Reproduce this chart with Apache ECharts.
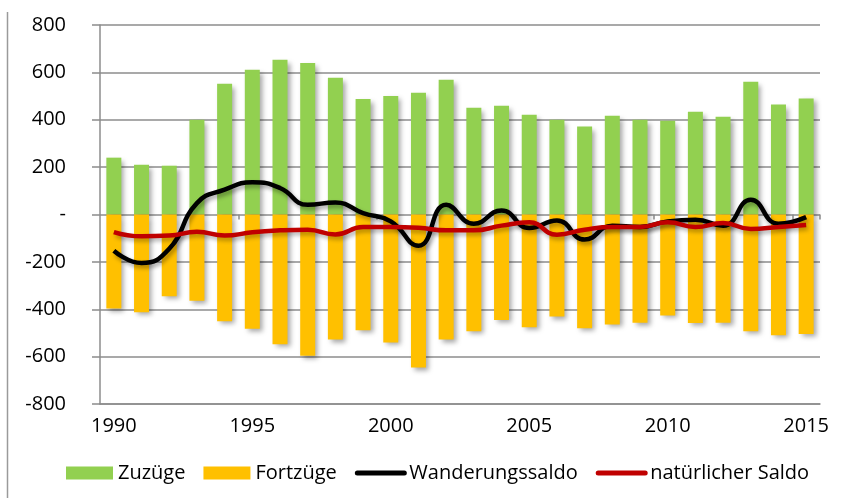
<!DOCTYPE html>
<html>
<head>
<meta charset="utf-8">
<script src="https://cdn.jsdelivr.net/npm/echarts@6/dist/echarts.min.js"></script>
<style>
  html, body { margin: 0; padding: 0; background: #fff; }
  #chart { width: 845px; height: 498px; }
</style>
</head>
<body>
<div id="chart"></div>
<script>
// Jahre
var years = ['1990', '1991', '1992', '1993', '1994', '1995', '1996', '1997', '1998', '1999',
    '2000', '2001', '2002', '2003', '2004', '2005', '2006', '2007', '2008', '2009',
    '2010', '2011', '2012', '2013', '2014', '2015'];

var zuzuege = [240, 210, 206, 400, 552, 611, 653, 640, 577, 488,
    500, 514, 569, 451, 459, 421, 400, 371, 417, 400,
    396, 434, 413, 560, 464, 490];

var fortzuege = [-397, -413, -345, -364, -451, -482, -548, -596, -528, -489,
    -540, -646, -528, -493, -445, -476, -431, -480, -464, -457,
    -426, -458, -457, -493, -510, -504];

var wanderungssaldo = [-153, -205, -145, 48, 105, 136, 112, 41, 51, 6,
    -29, -132, 41, -39, 17, -57, -25, -106, -47, -53,
    -29, -22, -47, 62, -39, -11];

var natSaldo = [-74, -92, -89, -73, -89, -75, -67, -64, -84, -53,
    -53, -56, -67, -67, -47, -33, -85, -64, -53, -53,
    -33, -53, -36, -61, -53, -44];

var yTicks = [-800, -600, -400, -200, 0, 200, 400, 600, 800];

var fontFam = 'Open Sans';
var gridGray = '#8c8c8c';

var chart = echarts.init(document.getElementById('chart'));

var option = {
    animation: false,
    textStyle: { fontFamily: fontFam },
    grid: { left: 100, right: 25, top: 25, bottom: 94 },
    legend: {
        left: 61,
        top: 458,
        itemGap: 18,
        itemWidth: 47,
        itemHeight: 13,
        textStyle: { fontFamily: fontFam, fontSize: 20, color: '#000' },
        lineStyle: { width: 5, cap: 'round' },
        data: [
            { name: 'Zuzüge', icon: 'rect' },
            { name: 'Fortzüge', icon: 'rect' },
            { name: 'Wanderungssaldo', itemStyle: { opacity: 0 } },
            { name: 'natürlicher Saldo', itemStyle: { opacity: 0 } }
        ]
    },
    xAxis: [{
        type: 'category',
        data: years,
        axisLine: { onZero: false, lineStyle: { color: gridGray, width: 1.5 } },
        axisTick: { show: false },
        axisLabel: {
            interval: 4,
            margin: 12,
            color: '#000',
            fontSize: 20,
            fontFamily: fontFam
        }
    }, {
        // kleine Striche auf der Nulllinie
        type: 'category',
        data: years,
        position: 'bottom',
        axisLine: { show: false, onZero: true },
        axisTick: {
            show: true,
            length: 5,
            interval: function(i) { return i % 5 === 0 && i > 0; },
            lineStyle: { color: gridGray, width: 1.5 }
        },
        axisLabel: { show: false }
    }],
    yAxis: {
        type: 'value',
        min: yTicks[0],
        max: yTicks[yTicks.length - 1],
        interval: 200,
        axisLine: { show: true, lineStyle: { color: gridGray, width: 1.5 } },
        axisTick: { show: true, length: 8, lineStyle: { color: gridGray, width: 1.5 } },
        splitLine: { lineStyle: { color: gridGray, width: 1.5 } },
        axisLabel: {
            margin: 34,
            color: '#000',
            fontSize: 20,
            fontFamily: fontFam,
            formatter: function(v) {
                return v === 0 ? '-' : String(v);
            }
        }
    },
    series: [{
        name: 'Zuzüge',
        type: 'bar',
        data: zuzuege,
        barWidth: 15,
        barGap: '-100%',
        itemStyle: {
            color: '#92D050',
            shadowColor: 'rgba(0,0,0,0.35)',
            shadowBlur: 5,
            shadowOffsetX: 3,
            shadowOffsetY: 3
        }
    }, {
        name: 'Fortzüge',
        type: 'bar',
        data: fortzuege,
        barWidth: 15,
        barGap: '-100%',
        itemStyle: {
            color: '#FFC000',
            shadowColor: 'rgba(0,0,0,0.35)',
            shadowBlur: 5,
            shadowOffsetX: 3,
            shadowOffsetY: 3
        }
    }, {
        name: 'Wanderungssaldo',
        type: 'line',
        data: wanderungssaldo,
        smooth: 0.5,
        symbol: 'none',
        itemStyle: { color: '#000' },
        lineStyle: {
            color: '#000',
            width: 4.5,
            shadowColor: 'rgba(0,0,0,0.35)',
            shadowBlur: 4,
            shadowOffsetX: 2,
            shadowOffsetY: 3
        }
    }, {
        name: 'natürlicher Saldo',
        type: 'line',
        data: natSaldo,
        smooth: 0.5,
        symbol: 'none',
        itemStyle: { color: '#C00000' },
        lineStyle: {
            color: '#C00000',
            width: 4.5,
            shadowColor: 'rgba(0,0,0,0.3)',
            shadowBlur: 4,
            shadowOffsetX: 2,
            shadowOffsetY: 3
        }
    }],
    graphic: [{
        type: 'line',
        shape: { x1: 7.5, y1: 12, x2: 7.5, y2: 498 },
        style: { stroke: '#9a9a9a', lineWidth: 1.5 }
    }]
};

chart.setOption(option);
</script>
</body>
</html>
